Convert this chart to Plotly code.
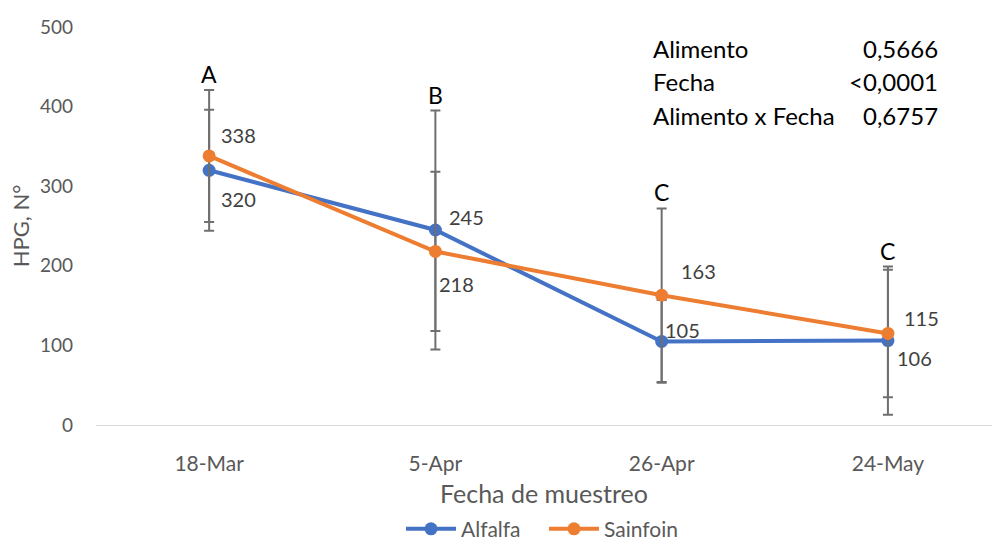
import plotly.graph_objects as go

# Sampling dates and egg counts (HPG) per forage
dates = ["18-Mar", "5-Apr", "26-Apr", "24-May"]
alfalfa = [320, 245, 105, 106]
sainfoin = [338, 218, 163, 115]
alfalfa_err = [76, 150, 52, 93]
sainfoin_err = [83, 100, 109, 80]
group_letters = ["A", "B", "C", "C"]

# Significance table (p-values)
effects = ["Alimento", "Fecha", "Alimento x Fecha"]
p_values = ["0,5666", "<0,0001", "0,6757"]

BLUE = "#4472C4"
ORANGE = "#ED7D31"
ERR = "#6F6F6F"
FONT = "Lato"

fig = go.Figure()
for name, vals, err, color in [("Alfalfa", alfalfa, alfalfa_err, BLUE),
                               ("Sainfoin", sainfoin, sainfoin_err, ORANGE)]:
    fig.add_trace(go.Scatter(
        x=dates, y=vals, name=name, mode="lines+markers",
        line=dict(color=color, width=4),
        marker=dict(color=color, size=13),
        error_y=dict(type="data", array=err, visible=True,
                     color=ERR, thickness=2, width=5),
    ))

# Value labels, offset in pixels from each point
alfalfa_shift = [(29, -29), (31, 13), (21, 11), (27, -17)]
sainfoin_shift = [(29, 21), (21, -33), (37, 24), (34, 15)]
for vals, shifts in [(alfalfa, alfalfa_shift), (sainfoin, sainfoin_shift)]:
    for d, v, (dx, dy) in zip(dates, vals, shifts):
        fig.add_annotation(x=d, y=v, text=str(v), showarrow=False,
                           xshift=dx, yshift=dy,
                           font=dict(family=FONT, size=20, color="#404040"))

# Mean-separation letters above the highest error bar of each date
for i, (d, letter) in enumerate(zip(dates, group_letters)):
    top = max(alfalfa[i] + alfalfa_err[i], sainfoin[i] + sainfoin_err[i])
    fig.add_annotation(x=d, y=top, text=letter, showarrow=False,
                       yanchor="bottom", yshift=0,
                       font=dict(family=FONT, size=23, color="#000000"))

# p-value table in the upper right corner
row_y = [0.947, 0.862, 0.777]
for eff, p, yy in zip(effects, p_values, row_y):
    fig.add_annotation(xref="paper", yref="paper", x=0.619, y=yy, text=eff,
                       showarrow=False, xanchor="left", yanchor="middle",
                       font=dict(family=FONT, size=24, color="#000000"))
    fig.add_annotation(xref="paper", yref="paper", x=0.942, y=yy, text=p,
                       showarrow=False, xanchor="right", yanchor="middle",
                       font=dict(family=FONT, size=24, color="#000000"))

fig.update_layout(
    width=992, height=540,
    margin=dict(l=96, r=0, t=27, b=115),
    paper_bgcolor="white", plot_bgcolor="white",
    font=dict(family=FONT, size=19, color="#595959"),
    showlegend=True,
    legend=dict(orientation="h", xref="paper", x=0.5, xanchor="center",
                yref="container", y=0.02, yanchor="middle", itemwidth=50,
                entrywidth=78, entrywidthmode="pixels",
                font=dict(family=FONT, size=21, color="#595959")),
    xaxis=dict(
        type="category", range=[-0.5, 3.46],
        showline=True, linecolor="#D9D9D9", linewidth=1,
        showgrid=False, zeroline=False, ticks="",
        ticklabelstandoff=20,
        tickfont=dict(family=FONT, size=21, color="#595959"),
        title=dict(text="Fecha de muestreo", standoff=11,
                   font=dict(family=FONT, size=25, color="#595959")),
    ),
    yaxis=dict(
        range=[0, 500], dtick=100, showgrid=False, zeroline=False,
        showline=False, ticks="", ticklabelstandoff=22,
        tickfont=dict(family=FONT, size=19, color="#595959"),
        title=dict(text="HPG, N°", standoff=4,
                   font=dict(family=FONT, size=22, color="#595959")),
    ),
)

fig.write_html("out.html")
